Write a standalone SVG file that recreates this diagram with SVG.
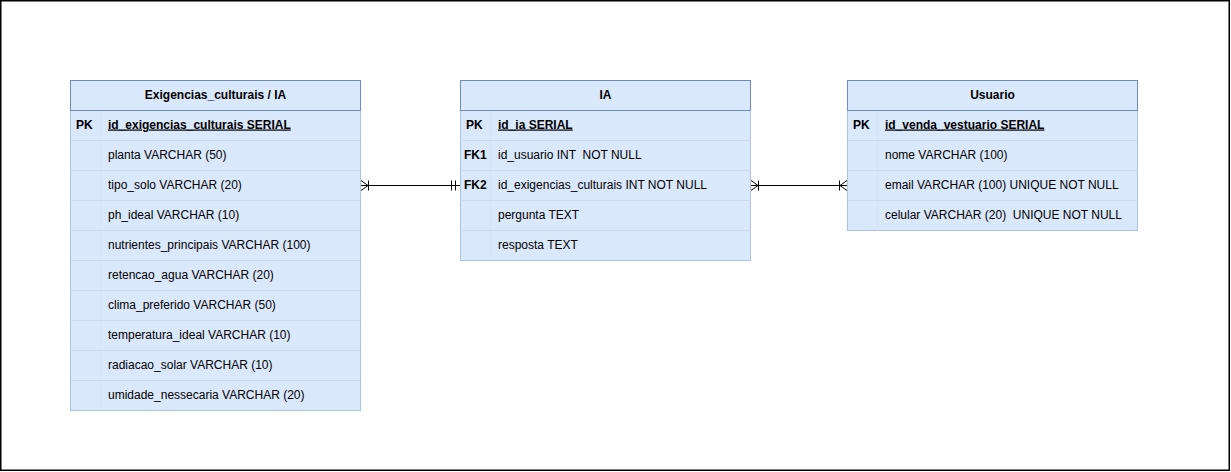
<svg xmlns="http://www.w3.org/2000/svg" width="1231" height="472" viewBox="0 0 1231 472">
<style>
.frame{fill:#ffffff;stroke:#000000;stroke-width:1.5}
.body{fill:#dae8fc;stroke:#a9c4eb;stroke-width:1}
.head{fill:#dae8fc;stroke:#6c8ebf;stroke-width:1}
.sep{stroke:#c9daf1;stroke-width:1}
.vsep{stroke:#d6e3f6;stroke-width:1}
text{font-family:"Liberation Sans",Arial,sans-serif;font-size:12px;fill:#000000;white-space:pre}
.title{font-weight:bold;text-anchor:middle}
.key{font-weight:bold}
.pk{font-weight:bold;text-decoration:underline}
.edge{stroke:#000000;stroke-width:1;fill:none}
</style>
<rect class="frame" x="0.75" y="0.75" width="1228.5" height="469.5"/>

<g id="exigencias">
<rect class="body" x="70.5" y="80.5" width="290" height="330"/>
<line class="vsep" x1="100.5" y1="110.5" x2="100.5" y2="410.5"/>
<line class="sep" x1="70.5" y1="140.5" x2="360.5" y2="140.5"/>
<line class="sep" x1="70.5" y1="170.5" x2="360.5" y2="170.5"/>
<line class="sep" x1="70.5" y1="200.5" x2="360.5" y2="200.5"/>
<line class="sep" x1="70.5" y1="230.5" x2="360.5" y2="230.5"/>
<line class="sep" x1="70.5" y1="260.5" x2="360.5" y2="260.5"/>
<line class="sep" x1="70.5" y1="290.5" x2="360.5" y2="290.5"/>
<line class="sep" x1="70.5" y1="320.5" x2="360.5" y2="320.5"/>
<line class="sep" x1="70.5" y1="350.5" x2="360.5" y2="350.5"/>
<line class="sep" x1="70.5" y1="380.5" x2="360.5" y2="380.5"/>
<rect class="head" x="70.5" y="80.5" width="290" height="30"/>
<text class="title" x="215.5" y="98.5">Exigencias_culturais / IA</text>
<text class="key" x="76" y="128.5">PK</text>
<text class="pk" x="108" y="128.5">id_exigencias_culturais SERIAL</text>
<text x="108" y="158.5">planta VARCHAR (50)</text>
<text x="108" y="188.5">tipo_solo VARCHAR (20)</text>
<text x="108" y="218.5">ph_ideal VARCHAR (10)</text>
<text x="108" y="248.5">nutrientes_principais VARCHAR (100)</text>
<text x="108" y="278.5">retencao_agua VARCHAR (20)</text>
<text x="108" y="308.5">clima_preferido VARCHAR (50)</text>
<text x="108" y="338.5">temperatura_ideal VARCHAR (10)</text>
<text x="108" y="368.5">radiacao_solar VARCHAR (10)</text>
<text x="108" y="398.5">umidade_nessecaria VARCHAR (20)</text>
</g>

<g id="ia">
<rect class="body" x="460.5" y="80.5" width="290" height="180"/>
<line class="vsep" x1="490.5" y1="110.5" x2="490.5" y2="260.5"/>
<line class="sep" x1="460.5" y1="140.5" x2="750.5" y2="140.5"/>
<line class="sep" x1="460.5" y1="170.5" x2="750.5" y2="170.5"/>
<line class="sep" x1="460.5" y1="200.5" x2="750.5" y2="200.5"/>
<line class="sep" x1="460.5" y1="230.5" x2="750.5" y2="230.5"/>
<rect class="head" x="460.5" y="80.5" width="290" height="30"/>
<text class="title" x="605.5" y="98.5">IA</text>
<text class="key" x="466" y="128.5">PK</text>
<text class="pk" x="498" y="128.5">id_ia SERIAL</text>
<text class="key" x="464" y="158.5">FK1</text>
<text x="498" y="158.5" xml:space="preserve">id_usuario INT  NOT NULL</text>
<text class="key" x="464" y="188.5">FK2</text>
<text x="498" y="188.5">id_exigencias_culturais INT NOT NULL</text>
<text x="498" y="218.5">pergunta TEXT</text>
<text x="498" y="248.5">resposta TEXT</text>
</g>

<g id="usuario">
<rect class="body" x="847.5" y="80.5" width="290" height="150"/>
<line class="vsep" x1="877.5" y1="110.5" x2="877.5" y2="230.5"/>
<line class="sep" x1="847.5" y1="140.5" x2="1137.5" y2="140.5"/>
<line class="sep" x1="847.5" y1="170.5" x2="1137.5" y2="170.5"/>
<line class="sep" x1="847.5" y1="200.5" x2="1137.5" y2="200.5"/>
<rect class="head" x="847.5" y="80.5" width="290" height="30"/>
<text class="title" x="992.5" y="98.5">Usuario</text>
<text class="key" x="853" y="128.5">PK</text>
<text class="pk" x="885" y="128.5">id_venda_vestuario SERIAL</text>
<text x="885" y="158.5">nome VARCHAR (100)</text>
<text x="885" y="188.5">email VARCHAR (100) UNIQUE NOT NULL</text>
<text x="885" y="218.5" xml:space="preserve">celular VARCHAR (20)  UNIQUE NOT NULL</text>
</g>

<g id="connectors">
<path class="edge" d="M361 185.5 H460"/>
<path class="edge" d="M361 180.5 L368 185.5 L361 190.5 M368.5 180.5 V190.5"/>
<path class="edge" d="M451.5 180.5 V190.5 M455.5 180.5 V190.5"/>
<path class="edge" d="M751 185.5 H847"/>
<path class="edge" d="M751 180.5 L758 185.5 L751 190.5 M758.5 180.5 V190.5"/>
<path class="edge" d="M847 180.5 L840 185.5 L847 190.5 M839.5 180.5 V190.5"/>
</g>
</svg>
